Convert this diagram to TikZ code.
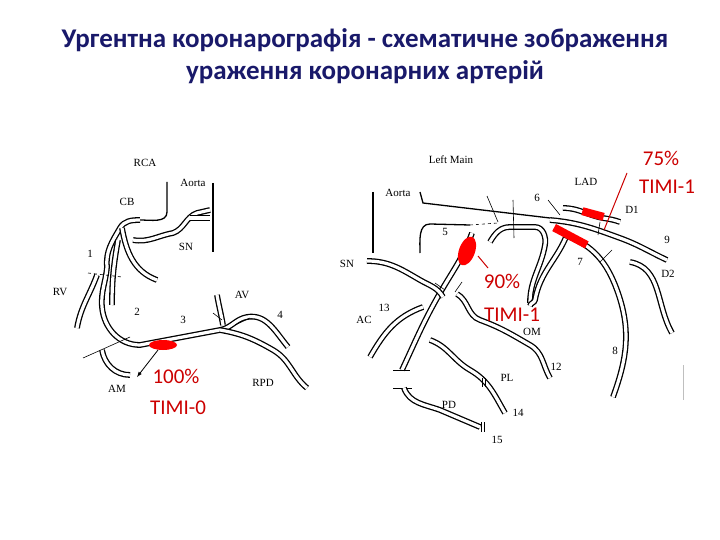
\documentclass[tikz,border=0pt]{standalone}
\usepackage{fontspec}
\setmainfont{Carlito}
\newfontfamily\tnr{Liberation Serif}
\begin{document}
\begin{tikzpicture}[x=1pt,y=-1pt,
  vessel/.style={draw=black,line width=1.3pt,double=white,double distance=3.2pt},
  wall/.style={draw=black,line width=1.3pt},
  tick/.style={draw=black,line width=0.6pt},
  lbl/.style={font=\tnr\fontsize{11}{12}\selectfont,inner sep=0pt},
  red lbl/.style={font=\fontsize{21}{23}\selectfont,text=red!80!black,inner sep=0pt},
  lesion/.style={fill=red,draw=none},
  pointer/.style={draw=red!80!black,line width=1pt}]
\useasboundingbox (0,0) rectangle (720,540);
\fill[white] (0,0) rectangle (720,540);
\node[font=\bfseries\fontsize{27}{32}\selectfont,text=blue!35!black!90,align=center] (title) at (365,56)
 {Ургентна коронарографія - схематичне зображення\\ураження коронарних артерій};
% ---------- left: RCA ----------
\draw[wall] (167,182) -- (167,212) to[out=-90,in=0] (140,220);
\draw[wall] (213,183) -- (213,252);
\draw[vessel] (140,220) to[out=180,in=60] (120,228) to[out=-120,in=95] (107,267)
  to[out=-95,in=95] (102,307) to[out=-85,in=180] (140,345) -- (220,330)
  to[out=10,in=190] (247,317) to[out=10,in=130] (288,347);
\draw[vessel] (220,330) to[out=-10,in=150] (273,350) to[out=-30,in=140] (307,388);
\draw[vessel] (223,325) to[out=100,in=-80] (217,295);
\draw[vessel] (122,228) to[out=-80,in=160] (157,280);
\draw[vessel] (133,240) to[out=-10,in=190] (173,233) to[out=20,in=200] (197,213) -- (210,210);
\draw[vessel] (190,218) -- (210,218);
\draw[vessel] (118,240) to[out=-100,in=90] (112,305);
\draw[vessel] (97,275) to[out=-110,in=80] (77,328);
\draw[vessel] (102,350) to[out=-80,in=180] (130,375);
\draw[tick,dashed] (88,273) -- (122,277);
\draw[tick] (83,358) -- (130,337);
\draw[tick] (213,313) -- (222,320);
\draw[tick] (235,325) -- (250,318);
\draw[lesion] (163,345) ellipse (14 and 5);
\draw[-latex,line width=0.8pt] (158,350) -- (137,377);
\node[lbl] (rca) at (145,163) {RCA};
\node[lbl] (aorta1) at (193,183) {Aorta};
\node[lbl] (cb) at (127,202) {CB};
\node[lbl] (sn1) at (186,247) {SN};
\node[lbl] (n1) at (90,254) {1};
\node[lbl] (rv) at (60,292) {RV};
\node[lbl] (n2) at (137,312) {2};
\node[lbl] (n3) at (183,320) {3};
\node[lbl] (av) at (242,295) {AV};
\node[lbl] (n4) at (280,315) {4};
\node[lbl] (am) at (117,389) {AM};
\node[lbl] (rpd) at (263,383) {RPD};
\node[red lbl] (p100) at (176,376) {100\%};
\node[red lbl] (t0) at (178,408) {TIMI-0};
% ---------- right: LCA ----------
\draw[wall] (373,192) -- (373,253);
\draw[wall] (420,192) -- (423,203) -- (550,218);
\draw[vessel] (550,220) to[out=-5,in=160] (620,238) to[out=-20,in=155] (667,260);
\draw[wall] (420,253) to[out=90,in=180] (430,224) -- (470,225);
\draw[tick,dashed] (470,225) -- (498,223);
\draw[vessel] (472,233) to[out=-110,in=60] (440,293) to[out=-120,in=65] (402,370);
\draw[tick] (393,370) -- (410,370);
\draw[tick] (393,388) -- (412,388);
\draw[vessel] (404,388) to[out=-70,in=160] (440,410) -- (480,427);
\draw[tick] (481,422) -- (481,432); \draw[tick] (484,422) -- (484,432);
\draw[vessel] (490,242) to[out=60,in=180] (510,227) -- (535,227) to[out=0,in=80] (545,245) to[out=-100,in=90] (530,303);
\draw[vessel] (568,232) to[out=-110,in=80] (535,300) to[out=-100,in=85] (530,306);
\draw[vessel] (367,261) to[out=0,in=150] (420,280) to[out=-30,in=120] (443,297);
\draw[vessel] (457,294) to[out=-30,in=160] (480,320) to[out=-20,in=150] (530,345) to[out=-30,in=120] (550,378);
\draw[vessel] (423,307) to[out=-160,in=60] (370,357);
\draw[vessel] (430,340) to[out=-20,in=150] (470,370) to[out=-30,in=120] (505,413);
\draw[tick] (482,378) -- (482,387); \draw[tick] (485,378) -- (485,387);
\draw[vessel] (565,235) to[out=-20,in=110] (617,290) to[out=-70,in=70] (613,397);
\draw[vessel] (630,262) to[out=-10,in=120] (672,333);
\draw[vessel] (563,208) to[out=0,in=170] (603,218) to[out=-10,in=160] (620,222);
\draw[tick] (487,196) -- (498,222);
\draw[tick] (513,200) -- (514,238);
\draw[tick] (548,200) -- (560,215);
\draw[tick] (600,262) -- (612,250);
\draw[tick] (435,283) -- (445,290);
\draw[tick] (455,292) -- (462,282);
\draw[tick] (600,222) -- (598,235);
\draw[black!25,line width=0.4pt] (683,365) -- (683,400);
\draw[lesion,rotate around={-20:(467,251)}] (467,251) ellipse (8 and 15);
\draw[lesion,rotate around={-28:(570,236)}] (552,232) rectangle (589,240);
\draw[lesion,rotate around={-15:(593,214)}] (582,210) rectangle (604,218);
\draw[pointer] (478,256) -- (488,268);
\draw[pointer] (627,173) -- (604,230);
\node[lbl] (lm) at (451,160) {Left Main};
\node[lbl] (lad) at (586,182) {LAD};
\node[lbl] (aorta2) at (398,193) {Aorta};
\node[lbl] (n6) at (537,198) {6};
\node[lbl] (d1) at (632,210) {D1};
\node[lbl] (n5) at (445,232) {5};
\node[lbl] (n9) at (667,240) {9};
\node[lbl] (sn2) at (347,264) {SN};
\node[lbl] (n7) at (580,262) {7};
\node[lbl] (d2) at (668,274) {D2};
\node[lbl] (n13) at (384,308) {13};
\node[lbl] (ac) at (364,320) {AC};
\node[lbl] (om) at (532,332) {OM};
\node[lbl] (n8) at (615,351) {8};
\node[lbl] (n12) at (556,367) {12};
\node[lbl] (pl) at (507,378) {PL};
\node[lbl] (pd) at (449,405) {PD};
\node[lbl] (n14) at (518,413) {14};
\node[lbl] (n15) at (497,440) {15};
\node[red lbl] (p75) at (661,158) {75\%};
\node[red lbl] (t75) at (667,187) {TIMI-1};
\node[red lbl] (p90) at (502,281) {90\%};
\node[red lbl] (t90) at (512,315) {TIMI-1};
\end{tikzpicture}
\end{document}
